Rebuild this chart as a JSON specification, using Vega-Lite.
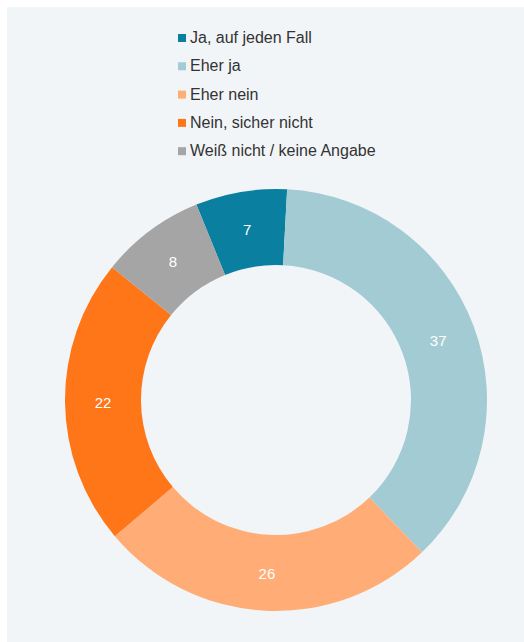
{
  "$schema": "https://vega.github.io/schema/vega-lite/v6.json",
  "width": 538,
  "height": 786,
  "autosize": "none",
  "padding": {"left": 7, "top": 7, "right": 0, "bottom": 0},
  "background": "white",
  "view": {"fill": "#f2f5f8", "stroke": null},
  "data": {"values": [
    {"k": 1, "antwort": "Ja, auf jeden Fall", "wert": 7},
    {"k": 2, "antwort": "Eher ja", "wert": 37},
    {"k": 3, "antwort": "Eher nein", "wert": 26},
    {"k": 4, "antwort": "Nein, sicher nicht", "wert": 22},
    {"k": 5, "antwort": "Weiß nicht / keine Angabe", "wert": 8}
  ]},
  "encoding": {
    "theta": {"field": "wert", "type": "quantitative", "stack": true, "scale": {"range": [-0.387, 5.896]}},
    "order": {"field": "k", "type": "quantitative"}
  },
  "layer": [
    {
      "mark": {"type": "arc", "innerRadius": 135, "outerRadius": 211},
      "encoding": {
        "color": {
          "field": "antwort", "type": "nominal",
          "scale": {
            "domain": ["Ja, auf jeden Fall", "Eher ja", "Eher nein", "Nein, sicher nicht", "Weiß nicht / keine Angabe"],
            "range": ["#0b7fa0", "#a3cbd4", "#ffac76", "#ff7619", "#a5a5a5"]
          },
          "legend": {
            "orient": "none",
            "legendX": 167,
            "legendY": 23,
            "title": null,
            "symbolType": "square",
            "symbolSize": 64,
            "symbolStrokeWidth": 0,
            "symbolOpacity": 1,
            "labelFont": "Liberation Sans",
            "labelFontSize": 16,
            "labelColor": "#333333",
            "labelOffset": 0,
            "rowPadding": 12.3,
            "padding": 0,
            "labelLimit": 400
          }
        }
      }
    },
    {
      "mark": {"type": "text", "radius": 173, "color": "white", "font": "Liberation Sans", "fontSize": 15, "dy": 1},
      "encoding": {
        "text": {"field": "wert", "type": "quantitative"}
      }
    }
  ]
}
